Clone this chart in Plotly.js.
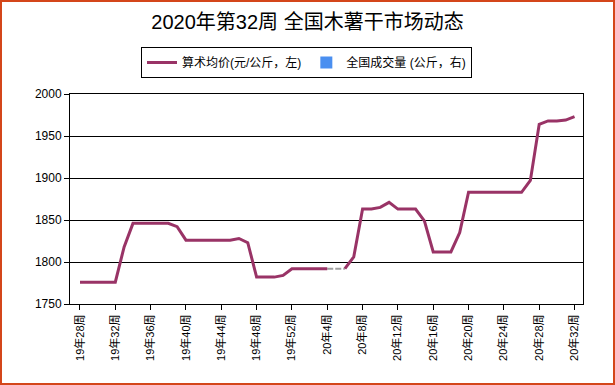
<!DOCTYPE html>
<html>
<head>
<meta charset="utf-8">
<script src="https://cdn.plot.ly/plotly-3.0.1.min.js"></script>
<style>
  html, body { margin: 0; padding: 0; background: #fff; }
  #frame { position: absolute; left: 0; top: 0; width: 611px; height: 381px; border: 2px solid #d4461a; }
  #chart { position: absolute; left: 0; top: 0; width: 615px; height: 385px; }
</style>
</head>
<body>
<div id="chart"></div>
<div id="frame"></div>
<script>
// Category labels (weeks)
const weeks2019 = [28,29,30,31,32,33,34,35,36,37,38,39,40,41,42,43,44,45,46,47,48,49,50,51,52];
const weeks2020 = [1,2,3,4,5,6,7,8,9,10,11,12,13,14,15,16,17,18,19,20,21,22,23,24,25,26,27,28,29,30,31,32];
const categories = weeks2019.map(w => '19年' + w + '周').concat(weeks2020.map(w => '20年' + w + '周'));

// 算术均价 (元/公斤) values, null = missing week
const price2019 = [1776,1776,1776,1776,1776,1818,1846,1846,1846,1846,1846,1842,1826,1826,1826,1826,1826,1826,1828,1823,1782,1782,1782,1784,1792];
const price2020 = [1792,1792,1792,1792,null,1792,1806,1863,1863,1865,1871,1863,1863,1863,1849,1812,1812,1812,1835,1883,1883,1883,1883,1883,1883,1883,1897,1964,1968,1968,1969,1973];
const prices = price2019.concat(price2020);

// 全国成交量 (公斤) – no data shown
const volumes = categories.map(() => null);

// Tick labels every 4 weeks
const tickLabels = categories.filter((c, i) => i % 4 === 0);

// Gap connector built from neighbours of missing values
const gapY = prices.map((v, i) => {
  if (v !== null) {
    const prevNull = i > 0 && prices[i - 1] === null;
    const nextNull = i < prices.length - 1 && prices[i + 1] === null;
    return (prevNull || nextNull) ? v : null;
  }
  let p = i - 1; while (p >= 0 && prices[p] === null) p--;
  let n = i + 1; while (n < prices.length && prices[n] === null) n++;
  return (p >= 0 && n < prices.length) ? (prices[p] + prices[n]) / 2 : null;
});

const fontFam = 'Liberation Sans, Arial, Noto Sans CJK SC, sans-serif';

const traces = [
  {
    x: categories, y: gapY, type: 'scatter', mode: 'lines',
    line: { color: '#a0a0a0', width: 2, dash: '6px,2px' },
    showlegend: false, hoverinfo: 'skip', connectgaps: false
  },
  {
    x: categories, y: prices, type: 'scatter', mode: 'lines',
    name: '算术均价(元/公斤，左)',
    line: { color: '#993366', width: 3 },
    connectgaps: false
  },
  {
    x: categories, y: volumes, type: 'bar', yaxis: 'y2',
    name: '全国成交量 (公斤，右)',
    marker: { color: '#4a8ff0' }
  }
];

const layout = {
  width: 615, height: 385,
  margin: { l: 70, r: 32, t: 94, b: 81 },
  paper_bgcolor: '#ffffff', plot_bgcolor: '#ffffff',
  font: { family: fontFam, color: '#000', size: 12 },
  title: {
    text: '2020年第32周 全国木薯干市场动态',
    font: { family: fontFam, size: 20, color: '#000' },
    x: 0.5, xanchor: 'center', xref: 'container',
    y: 1 - 22 / 385, yanchor: 'middle', yref: 'container'
  },
  showlegend: true,
  legend: {
    orientation: 'h',
    x: (141 - 70) / 513, xanchor: 'left',
    y: (304 - 47) / 210, yanchor: 'top',
    bordercolor: '#000', borderwidth: 1,
    font: { family: fontFam, size: 12, color: '#000' },
    traceorder: 'normal',
    itemwidth: 30
  },
  xaxis: {
    type: 'category',
    categoryorder: 'array', categoryarray: categories,
    range: [-1.13, 56.96],
    tickmode: 'array', tickvals: tickLabels, ticktext: tickLabels,
    tickangle: -90,
    tickfont: { family: fontFam, size: 11, color: '#000' },
    ticks: 'outside', ticklen: 5, tickcolor: '#000',
    showline: true, linecolor: '#000', linewidth: 1, mirror: true,
    showgrid: false, zeroline: false, fixedrange: true
  },
  yaxis: {
    range: [1750, 2000], dtick: 50, tick0: 1750,
    tickfont: { family: fontFam, size: 12, color: '#000' },
    ticks: 'outside', ticklen: 5, tickcolor: '#000',
    showline: true, linecolor: '#000', linewidth: 1, mirror: true,
    showgrid: true, gridcolor: '#000', gridwidth: 1,
    zeroline: false, fixedrange: true
  },
  yaxis2: {
    overlaying: 'y', side: 'right', visible: false, range: [0, 1]
  },
  bargap: 0.3
};

Plotly.newPlot('chart', traces, layout, { displayModeBar: false, staticPlot: true });
</script>
</body>
</html>
